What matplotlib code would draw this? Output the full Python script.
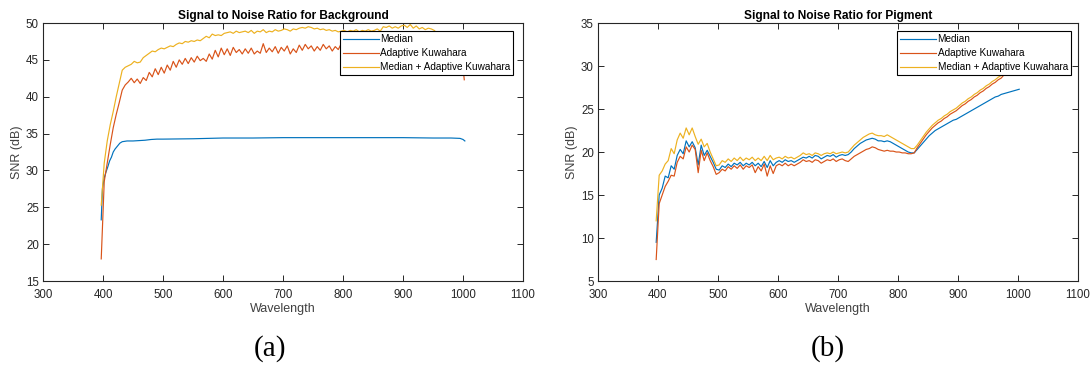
import matplotlib
matplotlib.use('Agg')
import matplotlib.pyplot as plt
import numpy as np

plt.rcParams['font.family'] = ['Liberation Sans', 'DejaVu Sans']

# colours used by the original (MATLAB default order)
c_med = '#0072BD'
c_kuw = '#D95319'
c_both = '#EDB120'

labels = ['Median', 'Adaptive Kuwahara', 'Median + Adaptive Kuwahara']

# ---- (a) background ----
bg_wl = np.arange(397, 1004, 5)

bg_med_wl = [397, 399, 402, 405, 408, 411, 414, 417, 420, 424, 428, 432, 436,
             440, 450, 460, 470, 480, 490, 500, 550, 600, 650, 700, 750, 800,
             850, 900, 950, 980, 995, 1000, 1003]
bg_med = [23.3, 27.5, 29.0, 29.8, 30.5, 31.3, 31.8, 32.5, 32.9, 33.3, 33.7, 33.9, 33.95,
          34.0, 34.0, 34.05, 34.1, 34.2, 34.25, 34.25, 34.3, 34.4, 34.4, 34.45, 34.45, 34.45,
          34.45, 34.45, 34.4, 34.4, 34.35, 34.2, 34.0]

bg_kuw = [18.0, 28.5, 31.0, 33.5, 35.8, 37.6, 39.2, 40.9, 41.6, 42.0,
          42.5, 41.9, 42.4, 41.8, 42.6, 42.2, 43.3, 42.7, 43.8, 43.0,
          44.0, 43.2, 44.3, 43.6, 44.8, 44.0, 45.0, 44.4, 45.2, 44.5,
          45.3, 44.7, 45.5, 44.9, 45.2, 44.8, 45.8, 45.1, 46.3, 45.4,
          46.6, 45.7, 46.5, 45.6, 46.7, 46.0, 46.4, 45.8, 46.5, 45.9,
          46.6, 45.8, 46.2, 45.9, 47.2, 46.0, 46.6, 46.1, 46.8, 45.9,
          46.7, 46.2, 46.9, 45.8, 46.5, 46.0, 47.0, 46.3, 47.1, 46.5,
          46.9, 46.2, 46.8, 46.3, 47.1, 46.5, 46.9, 46.2, 46.8, 46.4,
          47.2, 46.6, 47.0, 46.5, 46.9, 46.6, 47.1, 46.7, 46.9, 46.6,
          47.0, 46.7, 46.9, 46.6, 47.0, 46.8, 46.9, 46.7, 47.0, 46.8,
          46.9, 46.7, 47.0, 46.8, 46.9, 46.7, 46.8, 46.6, 46.8, 46.7,
          46.8, 46.6, 46.7, 46.6, 46.7, 46.6, 46.7, 46.5, 46.6, 46.5,
          46.5, 42.3]

bg_both = [25.3, 31.0, 34.0, 36.2, 38.0, 40.0, 41.8, 43.6, 44.0, 44.2,
           44.4, 44.8, 44.6, 44.7, 45.3, 45.6, 45.9, 46.2, 46.1, 46.4,
           46.6, 46.5, 46.7, 46.9, 46.8, 47.1, 47.3, 47.2, 47.5, 47.4,
           47.6, 47.5, 47.7, 47.6, 47.9, 48.2, 48.0, 48.5, 48.3, 48.4,
           48.3, 48.6, 48.7, 48.8, 48.6, 48.9, 48.7, 48.8, 48.9, 48.7,
           49.0, 48.6, 48.9, 48.8, 49.1, 48.7, 48.9, 48.8, 49.1, 48.9,
           49.0, 49.2, 49.1, 48.9, 49.2, 49.1, 49.3, 49.4, 49.3, 49.5,
           49.4, 49.2, 49.3, 49.1, 49.2, 49.0, 49.1, 48.9, 49.0, 48.8,
           48.9, 49.0, 48.8, 49.0, 48.9, 49.1, 48.8, 49.0, 48.9, 49.1,
           48.9, 49.0, 49.2, 48.9, 49.5, 49.4, 49.6, 49.3, 49.5, 49.3,
           49.6, 49.7, 49.4, 49.8, 49.3, 49.6, 49.2, 49.4, 49.1, 49.3,
           49.2, 49.0, 48.6, 48.6, 48.5, 48.6, 48.5, 48.6, 48.5, 48.5,
           48.4, 48.4]

# ---- (b) pigment ----
pg_wl = np.arange(397, 1004, 5)

pg_med = [9.5, 15.0, 15.8, 17.2, 17.0, 18.4, 18.0, 19.6, 20.3, 19.8,
          21.3, 20.6, 21.2, 20.5, 18.5, 20.8, 19.6, 20.2, 19.5, 18.8,
          18.0, 17.9, 18.4, 18.2, 18.6, 18.3, 18.7, 18.5, 18.8, 18.4,
          18.7, 18.5, 18.8, 18.4, 18.7, 18.3, 18.9, 18.2, 19.0, 18.4,
          18.8, 19.0, 18.8, 19.1, 18.9, 19.0, 18.8, 19.0, 19.2, 19.4,
          19.3, 19.5, 19.3, 19.6, 19.5, 19.2, 19.4, 19.6, 19.5, 19.7,
          19.4, 19.6, 19.7, 19.6, 19.7, 20.0, 20.4, 20.7, 21.0, 21.2,
          21.4, 21.5, 21.6, 21.5, 21.3, 21.3, 21.2, 21.3, 21.2, 21.0,
          20.8, 20.6, 20.4, 20.2, 20.0, 19.9, 19.9, 20.3, 20.7, 21.1,
          21.5, 21.9, 22.2, 22.5, 22.7, 22.9, 23.1, 23.3, 23.5, 23.7,
          23.8, 24.0, 24.2, 24.4, 24.6, 24.8, 25.0, 25.2, 25.4, 25.6,
          25.8, 26.0, 26.2, 26.4, 26.5, 26.7, 26.8, 26.9, 27.0, 27.1,
          27.2, 27.3]

pg_kuw = [7.5, 14.0, 15.0, 16.0, 16.6, 17.3, 17.2, 18.8, 19.5, 19.2,
          20.6, 20.0, 20.8, 20.3, 17.6, 20.2, 19.0, 19.9, 19.0, 18.3,
          17.4, 17.6, 18.0, 17.8, 18.3, 18.0, 18.4, 18.1, 18.5, 18.0,
          18.4, 18.2, 18.5, 17.6, 18.3, 17.8, 18.6, 17.2, 18.4, 17.5,
          18.4, 18.6, 18.4, 18.7, 18.4, 18.6, 18.4, 18.6, 18.8, 19.1,
          18.9, 19.0, 18.8, 19.1, 19.0, 18.7, 18.9, 19.1, 19.0, 19.2,
          18.9, 19.1, 19.2, 19.0, 18.9, 19.2, 19.5, 19.7, 19.9, 20.1,
          20.3, 20.4, 20.6, 20.5, 20.3, 20.2, 20.1, 20.2, 20.1, 20.1,
          20.0, 20.0, 19.9, 19.9, 19.8, 19.8, 19.9, 20.5, 21.0, 21.5,
          22.0, 22.4, 22.8, 23.1, 23.4, 23.6, 23.9, 24.1, 24.4, 24.6,
          24.8, 25.1, 25.4, 25.6, 25.9, 26.1, 26.4, 26.6, 26.9, 27.1,
          27.4, 27.6, 27.9, 28.1, 28.4, 28.6, 29.0, 29.4, 29.8, 30.2,
          30.6, 31.0]

pg_both = [12.0, 17.3, 17.8, 18.6, 19.0, 20.4, 19.8, 21.4, 22.2, 21.6,
           22.8, 22.0, 22.8, 21.8, 20.9, 21.5, 20.6, 21.0, 20.0, 19.2,
           18.4, 18.5, 19.0, 18.8, 19.2, 18.9, 19.3, 19.0, 19.4, 19.0,
           19.3, 19.1, 19.4, 19.0, 19.3, 19.0, 19.5, 19.0, 19.6, 19.1,
           19.3, 19.4, 19.2, 19.5, 19.3, 19.4, 19.2, 19.4, 19.6, 19.9,
           19.7, 19.8, 19.6, 19.9, 19.8, 19.6, 19.8, 19.9, 19.8, 20.0,
           19.8, 19.9, 20.0, 19.9, 20.0, 20.4, 20.8, 21.1, 21.4, 21.7,
           21.9, 22.1, 22.2, 22.0, 21.9, 21.9, 21.8, 22.0, 21.8, 21.6,
           21.4, 21.2, 21.0, 20.8, 20.6, 20.4, 20.4, 20.8, 21.3, 21.8,
           22.3, 22.7, 23.1, 23.4, 23.7, 23.9, 24.2, 24.4, 24.7, 24.9,
           25.1, 25.4, 25.7, 25.9, 26.2, 26.4, 26.7, 26.9, 27.2, 27.4,
           27.7, 27.9, 28.2, 28.4, 28.7, 28.9, 29.3, 29.7, 30.1, 30.5,
           30.9, 31.3]

fig = plt.figure(figsize=(10.92, 3.89), dpi=100)
ax1 = fig.add_axes([0.0394, 0.2776, 0.4396, 0.6632])
ax2 = fig.add_axes([0.5476, 0.2776, 0.4396, 0.6632])

lw = 0.85
ax1.plot(bg_med_wl, bg_med, color=c_med, lw=lw, label=labels[0])
ax1.plot(bg_wl, bg_kuw, color=c_kuw, lw=lw, label=labels[1])
ax1.plot(bg_wl, bg_both, color=c_both, lw=lw, label=labels[2])

ax2.plot(pg_wl, pg_med, color=c_med, lw=lw, label=labels[0])
ax2.plot(pg_wl, pg_kuw, color=c_kuw, lw=lw, label=labels[1])
ax2.plot(pg_wl, pg_both, color=c_both, lw=lw, label=labels[2])

ax1.set_ylim(15, 50)
ax2.set_ylim(5, 35)
ax1.set_title('Signal to Noise Ratio for Background', fontsize=8.6, fontweight='bold', pad=3)
ax2.set_title('Signal to Noise Ratio for Pigment', fontsize=8.6, fontweight='bold', pad=3)

for ax, anchor in ((ax1, (0.98, 0.969)), (ax2, (0.985, 0.969))):
    ax.set_xlim(300, 1100)
    ax.set_xticks(np.arange(300, 1101, 100))
    ax.set_xlabel('Wavelength', fontsize=9, color='#404040', labelpad=1)
    ax.set_ylabel('SNR (dB)', fontsize=9, color='#404040', labelpad=2)
    ax.tick_params(direction='in', top=True, right=True, length=4, width=0.7,
                   labelsize=8.3, colors='#262626')
    ax.tick_params(axis='x', pad=6)
    ax.tick_params(axis='y', pad=3)
    for s in ax.spines.values():
        s.set_color('#262626')
        s.set_linewidth(0.8)
    leg = ax.legend(loc='upper right', bbox_to_anchor=anchor, fontsize=7.2,
                    fancybox=False, framealpha=1, edgecolor='black',
                    handlelength=3.6, handletextpad=0.15, labelspacing=0.4,
                    borderpad=0.3, borderaxespad=0)
    leg.get_frame().set_linewidth(0.8)

fig.text(0.247, 0.105, '(a)', fontsize=21, family='Liberation Serif', ha='center', va='center')
fig.text(0.758, 0.105, '(b)', fontsize=21, family='Liberation Serif', ha='center', va='center')

fig.savefig('out.png', dpi=100)
